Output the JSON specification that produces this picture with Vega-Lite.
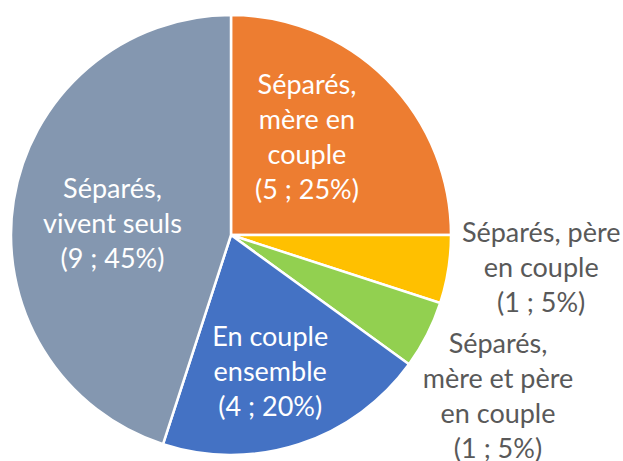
{
  "$schema": "https://vega.github.io/schema/vega-lite/v6.json",
  "width": 462,
  "height": 470,
  "padding": {"left": 0, "top": 0, "right": 161, "bottom": 0},
  "autosize": {"type": "none"},
  "background": "white",
  "config": {"view": {"stroke": null}, "text": {"font": "Lato", "fontSize": 27, "lineHeight": 35, "lineBreak": "|"}},
  "data": {
    "values": [
      {"cat": "Séparés, mère en couple", "ord": 1, "value": 5, "label": "Séparés,|mère en|couple|(5 ; 25%)"},
      {"cat": "Séparés, père en couple", "ord": 2, "value": 1, "label": "Séparés, père|en couple|(1 ; 5%)"},
      {"cat": "Séparés, mère et père en couple", "ord": 3, "value": 1, "label": "Séparés,|mère et père|en couple|(1 ; 5%)"},
      {"cat": "En couple ensemble", "ord": 4, "value": 4, "label": "En couple|ensemble|(4 ; 20%)"},
      {"cat": "Séparés, vivent seuls", "ord": 5, "value": 9, "label": "Séparés,|vivent seuls|(9 ; 45%)"}
    ]
  },
  "encoding": {
    "theta": {"field": "value", "type": "quantitative", "stack": true},
    "order": {"field": "ord", "type": "quantitative"},
    "color": {
      "field": "cat",
      "type": "nominal",
      "legend": null,
      "scale": {
        "domain": ["Séparés, mère en couple", "Séparés, père en couple", "Séparés, mère et père en couple", "En couple ensemble", "Séparés, vivent seuls"],
        "range": ["#ED7D31", "#FFC000", "#92D050", "#4472C4", "#8497B0"]
      }
    }
  },
  "layer": [
    {"mark": {"type": "arc", "outerRadius": 220, "stroke": "white", "strokeWidth": 2.5}},
    {
      "mark": {"type": "text", "radius": 123, "dx": -11, "dy": -62, "align": "center", "baseline": "middle"},
      "encoding": {
        "color": {"value": "white"},
        "text": {"condition": {"test": "datum.ord === 1", "field": "label"}, "value": ""}
      }
    },
    {
      "mark": {"type": "text", "radius": 120, "dx": 0, "dy": -26, "align": "center", "baseline": "middle"},
      "encoding": {
        "color": {"value": "white"},
        "text": {"condition": {"test": "datum.ord === 5", "field": "label"}, "value": ""}
      }
    },
    {
      "mark": {"type": "text", "radius": 143, "dx": -5, "dy": -33, "align": "center", "baseline": "middle"},
      "encoding": {
        "color": {"value": "white"},
        "text": {"condition": {"test": "datum.ord === 4", "field": "label"}, "value": ""}
      }
    },
    {
      "mark": {"type": "text", "radius": 312, "dx": 2, "dy": -50, "align": "center", "baseline": "middle"},
      "encoding": {
        "color": {"value": "#595959"},
        "text": {"condition": {"test": "datum.ord === 2", "field": "label"}, "value": ""}
      }
    },
    {
      "mark": {"type": "text", "radius": 312, "dx": -11, "dy": -32, "align": "center", "baseline": "middle"},
      "encoding": {
        "color": {"value": "#595959"},
        "text": {"condition": {"test": "datum.ord === 3", "field": "label"}, "value": ""}
      }
    }
  ]
}
